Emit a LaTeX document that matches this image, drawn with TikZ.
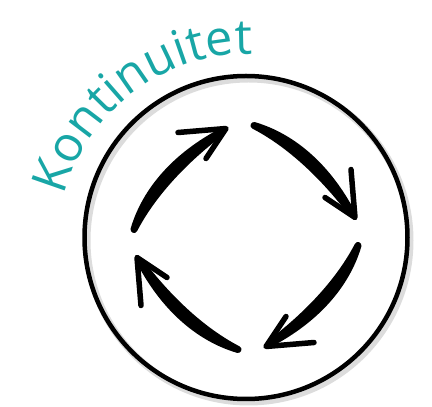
\documentclass[tikz,border=0pt]{standalone}
\usepackage{fontspec}
\setsansfont{Open Sans}
\usetikzlibrary{decorations.text}
\definecolor{tealtext}{RGB}{24,166,166}

\begin{document}
\begin{tikzpicture}[x=1pt, y=1pt,
  ring/.style={draw=black, line width=4.5pt},
  ringshadow/.style={draw=black!30, line width=7pt, opacity=0.45},
  brush/.style={fill=black, draw=black, line width=7pt, line cap=round, line join=round},
  barb/.style={draw=black, line width=5.5pt, line cap=round, line join=round},
]
\useasboundingbox (0,0) rectangle (432,407);
\coordinate (ctr) at (246,169.5);

% === Shadow and ring ===
\draw[ringshadow] ([shift={(2.5,-3)}]ctr) circle[radius=161.5];
\draw[ring] (ctr) circle[radius=161.5];

% === Four arrows, clockwise ===
\foreach \rot in {0,-90,-180,-270}{
  \begin{scope}[shift={(ctr)}, rotate=\rot]
    \filldraw[brush] (-112,8) .. controls (-100.2,48) and (-69.2,82.3) .. (-24,106)
      .. controls (-63.4,76.3) and (-94.4,42) .. cycle;
    \draw[barb] (-68,105) -- (-20,109) -- (-40,79);
  \end{scope}
}

% === Curved title ===
\path[decorate, decoration={text along path, text align=center, text color=tealtext,
   text={|\sffamily\fontsize{49}{49}\selectfont|Kontinuitet}}]
  (248,163) ++(166:190) arc[start angle=166, end angle=88, radius=190];
\end{tikzpicture}
\end{document}
